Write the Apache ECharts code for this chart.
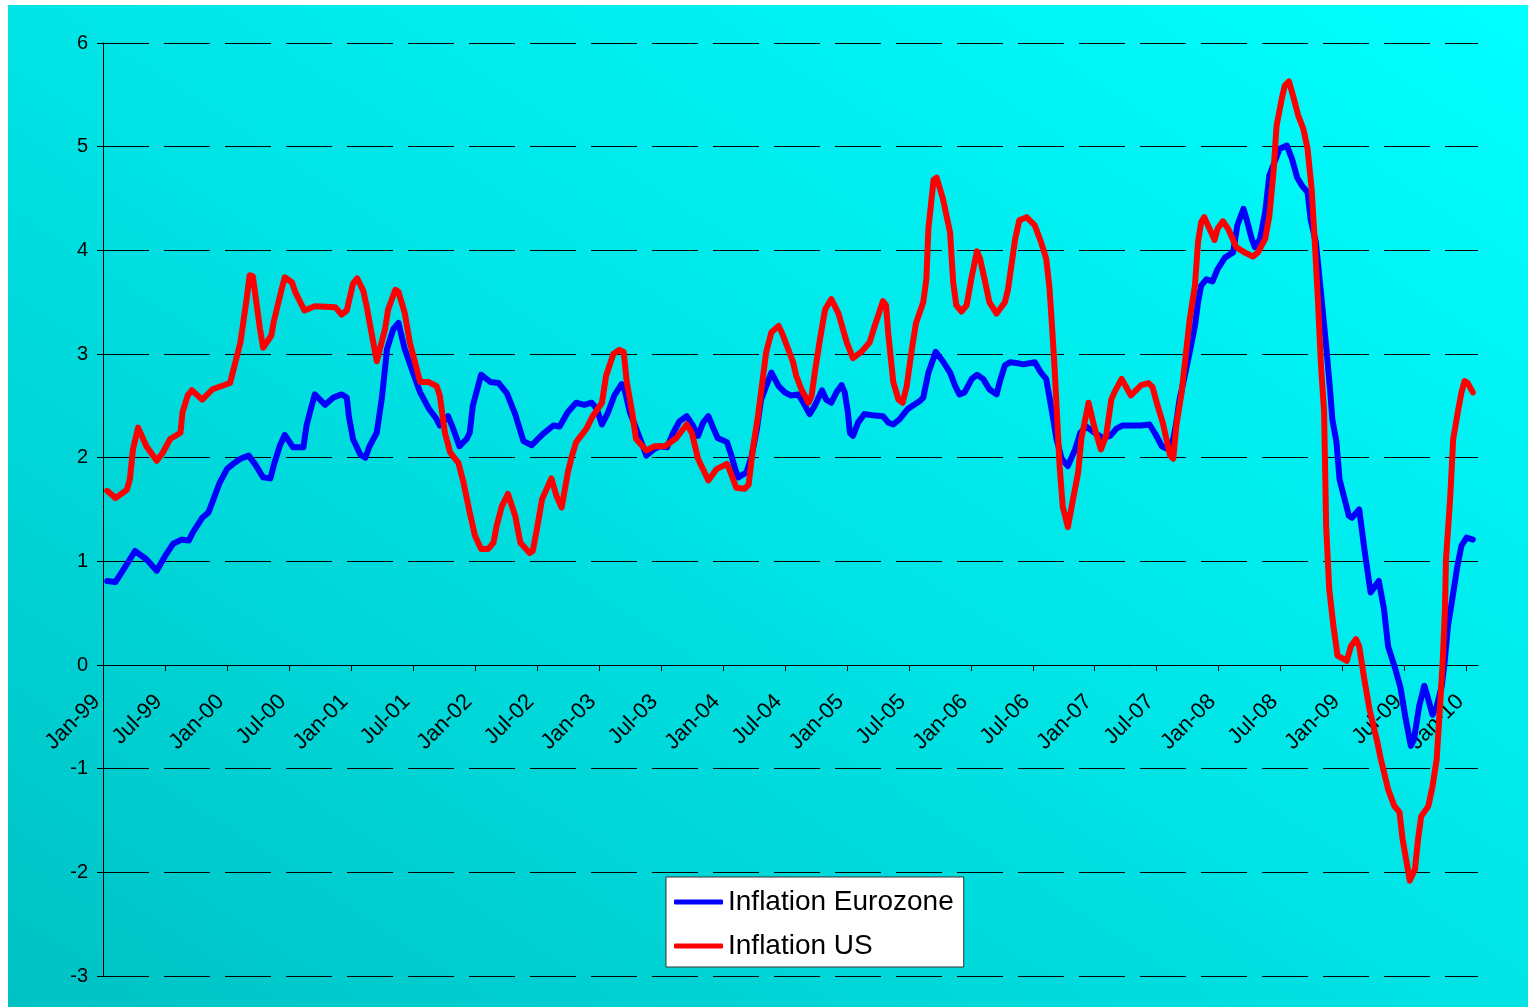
<!DOCTYPE html>
<html>
<head>
<meta charset="utf-8">
<script src="https://cdn.jsdelivr.net/npm/echarts@6/dist/echarts.min.js"></script>
<style>
  html, body { margin: 0; padding: 0; background: #fff; }
  #chart { width: 1528px; height: 1007px; }
</style>
</head>
<body>
<div id="chart"></div>
<script>
// months counted from Jan-99 (0 = Jan 1999)
var xTickLabels = ["Jan-99", "Jul-99", "Jan-00", "Jul-00", "Jan-01", "Jul-01", "Jan-02", "Jul-02",
  "Jan-03", "Jul-03", "Jan-04", "Jul-04", "Jan-05", "Jul-05", "Jan-06", "Jul-06",
  "Jan-07", "Jul-07", "Jan-08", "Jul-08", "Jan-09", "Jul-09", "Jan-10"];

var euroMonths = [0.4,1.2,2.1,3.1,4.2,5.2,6.0,6.8,7.6,8.3,
  8.7,9.6,10.2,10.7,11.3,12.0,12.6,13.3,14.1,14.7,
  15.5,16.2,16.6,17.1,17.6,18.4,19.4,19.7,20.2,20.5,
  21.5,22.3,23.1,23.6,23.8,24.2,24.9,25.4,25.8,26.5,
  27.0,27.5,28.1,28.6,29.2,29.9,30.7,31.5,32.3,32.6,
  33.4,33.9,34.5,35.2,35.5,35.8,36.6,37.5,38.3,39.1,
  39.9,40.7,41.5,42.6,43.6,44.2,45.0,45.8,46.6,47.3,
  47.8,48.3,48.9,49.5,50.2,50.5,51.0,52.0,52.6,53.3,
  53.9,54.6,55.2,55.8,56.5,57.1,57.6,58.1,58.6,59.1,
  59.5,60.4,60.8,61.2,61.5,62.3,62.8,63.3,63.7,64.7,
  65.4,66.0,66.6,67.3,67.8,68.4,68.9,69.6,70.0,70.5,
  71.0,71.5,71.8,72.1,72.3,72.6,73.1,73.7,74.5,75.5,
  76.0,76.5,77.1,77.9,79.1,79.4,79.9,80.6,81.3,82.0,
  82.5,82.9,83.4,84.1,84.6,85.2,85.8,86.5,86.8,87.3,
  87.8,88.6,89.1,90.2,90.8,91.3,91.8,92.3,92.8,93.4,
  94.1,94.6,95.2,96.0,96.8,97.5,98.1,98.7,100.5,101.3,
  101.8,102.5,103.1,103.6,103.9,104.2,104.5,105.2,105.7,106.0,
  106.3,106.8,107.4,107.9,108.6,109.4,109.8,110.4,110.7,111.2,
  111.5,112.0,112.5,112.9,113.4,113.9,114.6,115.1,115.6,116.1,
  116.6,116.9,117.4,117.9,118.4,118.8,119.0,119.4,119.7,120.6,
  120.9,121.6,122.1,122.7,123.5,124.0,124.4,125.1,125.6,126.1,
  126.6,126.9,127.4,127.9,128.2,128.7,129.1,129.6,129.9,130.2,
  130.6,131.1,131.5,132.0,132.6];

var euroValues = [0.81,0.80,0.94,1.10,1.02,0.91,1.05,1.17,1.21,1.20,
  1.28,1.42,1.47,1.60,1.76,1.89,1.94,1.99,2.02,1.94,
  1.81,1.80,1.95,2.11,2.22,2.10,2.10,2.31,2.50,2.61,
  2.51,2.58,2.61,2.58,2.40,2.18,2.03,2.00,2.11,2.24,
  2.58,3.05,3.24,3.30,3.05,2.85,2.63,2.48,2.37,2.31,
  2.40,2.28,2.11,2.18,2.24,2.50,2.80,2.73,2.72,2.62,
  2.42,2.16,2.12,2.23,2.31,2.30,2.44,2.53,2.51,2.53,
  2.47,2.32,2.44,2.60,2.71,2.65,2.44,2.18,2.02,2.08,
  2.11,2.10,2.24,2.35,2.40,2.31,2.21,2.34,2.40,2.28,
  2.19,2.15,2.03,1.89,1.81,1.86,2.02,2.28,2.56,2.82,
  2.69,2.63,2.60,2.61,2.53,2.42,2.50,2.65,2.56,2.53,
  2.63,2.70,2.63,2.44,2.24,2.21,2.34,2.42,2.41,2.40,
  2.34,2.32,2.37,2.47,2.55,2.58,2.82,3.02,2.93,2.82,
  2.69,2.61,2.63,2.76,2.80,2.76,2.66,2.61,2.73,2.89,
  2.92,2.91,2.90,2.92,2.82,2.76,2.48,2.18,1.99,1.92,
  2.08,2.24,2.30,2.24,2.19,2.21,2.28,2.31,2.31,2.32,
  2.24,2.11,2.08,2.18,2.34,2.56,2.69,3.02,3.27,3.50,
  3.66,3.72,3.70,3.82,3.93,3.98,4.24,4.40,4.30,4.11,
  4.03,4.11,4.37,4.72,4.85,4.98,5.01,4.88,4.70,4.62,
  4.56,4.30,4.08,3.59,3.08,2.63,2.37,2.15,1.79,1.44,
  1.42,1.50,1.12,0.70,0.81,0.54,0.18,-0.04,-0.22,-0.52,
  -0.78,-0.72,-0.40,-0.20,-0.30,-0.48,-0.40,-0.20,0.06,0.38,
  0.63,0.95,1.15,1.23,1.21];

var usMonths = [0.4,1.2,2.3,2.6,2.9,3.4,4.2,5.2,5.8,6.5,
  7.5,7.7,8.2,8.6,9.6,10.6,12.3,13.3,13.9,14.2,
  14.5,15.2,15.5,16.3,16.5,17.3,17.6,18.3,18.6,19.5,
  20.5,22.5,23.1,23.6,24.2,24.6,25.2,25.5,26.5,27.3,
  27.6,28.3,28.6,29.2,29.7,30.7,31.5,32.3,32.6,33.1,
  33.6,34.4,34.9,35.5,36.0,36.6,37.3,37.8,38.1,38.6,
  39.2,39.9,40.4,41.3,41.6,42.0,42.5,43.4,43.9,44.4,
  45.0,45.4,45.8,46.8,47.4,48.3,48.7,49.4,50.0,50.4,
  50.7,51.2,51.6,52.6,53.4,54.4,55.5,56.5,57.0,57.6,
  58.6,59.4,60.4,60.7,61.3,62.1,62.5,62.9,63.4,64.2,
  64.7,65.4,65.7,66.2,66.8,67.1,67.6,68.3,68.6,68.9,
  69.4,69.9,70.5,71.2,72.0,72.6,73.4,74.2,74.7,75.5,
  75.8,76.0,76.5,77.0,77.4,77.8,78.3,78.7,79.4,79.7,
  79.9,80.4,80.7,81.3,82.0,82.3,82.6,83.1,83.6,84.1,
  84.6,84.9,85.4,85.8,86.5,87.3,87.6,88.3,88.7,89.4,
  90.2,90.8,91.3,91.6,91.8,92.1,92.3,92.6,92.9,93.4,
  93.9,94.4,94.7,95.4,96.0,96.6,97.1,97.6,97.9,98.6,
  99.5,100.5,101.2,101.6,102.0,102.6,103.3,103.6,103.9,104.4,
  105.2,105.7,106.0,106.3,106.6,107.1,107.6,107.9,108.4,108.9,
  109.7,110.5,111.3,111.8,112.5,112.9,113.3,113.6,114.1,114.4,
  114.8,115.2,115.7,116.2,116.6,117.0,117.3,117.6,117.9,118.2,
  118.4,118.7,119.1,119.5,120.4,120.8,121.3,121.6,122.1,122.6,
  123.3,123.7,124.4,125.0,125.5,125.8,126.2,126.5,127.0,127.3,
  127.6,128.3,128.7,129.1,129.4,129.7,129.9,130.0,130.4,130.7,
  131.2,131.5,131.8,132.1,132.6];

var usValues = [1.68,1.61,1.69,1.79,2.08,2.29,2.11,1.97,2.05,2.18,
  2.24,2.44,2.60,2.65,2.56,2.66,2.72,3.11,3.53,3.76,
  3.75,3.24,3.06,3.18,3.30,3.63,3.74,3.69,3.60,3.42,
  3.46,3.45,3.38,3.42,3.68,3.73,3.61,3.47,2.93,3.24,
  3.43,3.62,3.60,3.40,3.11,2.73,2.73,2.69,2.60,2.24,
  2.05,1.95,1.76,1.47,1.25,1.12,1.12,1.18,1.34,1.53,
  1.65,1.44,1.18,1.08,1.10,1.31,1.60,1.80,1.63,1.52,
  1.86,2.02,2.15,2.28,2.40,2.53,2.79,3.00,3.04,3.02,
  2.73,2.45,2.18,2.07,2.11,2.11,2.19,2.32,2.24,1.99,
  1.78,1.89,1.94,1.87,1.71,1.70,1.74,2.08,2.40,3.02,
  3.21,3.27,3.21,3.08,2.92,2.79,2.66,2.53,2.60,2.82,
  3.14,3.43,3.53,3.39,3.11,2.96,3.02,3.11,3.27,3.51,
  3.47,3.21,2.73,2.56,2.53,2.69,3.05,3.30,3.50,3.72,
  4.21,4.68,4.70,4.50,4.17,3.69,3.47,3.41,3.47,3.75,
  3.99,3.92,3.69,3.50,3.39,3.50,3.62,4.11,4.29,4.32,
  4.24,4.08,3.92,3.66,3.37,2.89,2.50,1.92,1.53,1.33,
  1.60,1.86,2.18,2.53,2.28,2.08,2.21,2.56,2.63,2.76,
  2.60,2.70,2.72,2.68,2.53,2.33,2.02,1.99,2.31,2.62,
  3.34,3.66,4.08,4.27,4.32,4.21,4.10,4.21,4.28,4.21,
  4.03,3.98,3.94,3.98,4.11,4.33,4.75,5.20,5.46,5.59,
  5.63,5.49,5.30,5.17,4.98,4.59,4.08,3.53,2.89,2.45,
  1.34,0.73,0.38,0.09,0.04,0.18,0.25,0.18,-0.14,-0.43,
  -0.72,-0.91,-1.20,-1.36,-1.42,-1.68,-1.91,-2.08,-1.97,-1.68,
  -1.46,-1.36,-1.17,-0.91,-0.43,0.06,0.54,1.02,1.60,2.18,
  2.47,2.63,2.74,2.72,2.63];

var yMin = -3, yMax = 6;

function zip(xs, ys) {
  return xs.map(function (x, i) { return [x, ys[i]]; });
}

var tickMonths = xTickLabels.map(function (_, i) { return i * 6; });
var font = "Liberation Sans, Arial, sans-serif";

// plot box, the date axis sits on the zero line
var gridTop = 43, gridBottom = 31;
var plotHeight = 1007 - gridTop - gridBottom;
var zeroOffset = -plotHeight * (0 - yMin) / (yMax - yMin);

var myChart = echarts.init(document.getElementById("chart"));

const option = {
  animation: false,
  textStyle: { fontFamily: font },
  graphic: [
    {
      type: "rect",
      z: -100,
      silent: true,
      shape: { x: 8, y: 5, width: 1520, height: 1002 },
      style: {
        // diagonal fill, dark in the bottom left, bright cyan top right
        fill: new echarts.graphic.LinearGradient(309, 1203, 1227, -193, [
          { offset: 0, color: "#00c2c4" },
          { offset: 0.5, color: "#00e4e6" },
          { offset: 1, color: "#00ffff" }
        ], true)
      }
    }
  ],
  grid: {
    left: 103, right: 50, top: gridTop, bottom: gridBottom,
    containLabel: false,
    outerBoundsMode: "none"
  },
  legend: {
    orient: "vertical",
    left: 666,
    top: 877,
    padding: [11, 10, 7, 8],
    itemGap: 16,
    itemWidth: 49,
    itemHeight: 5,
    icon: "roundRect",
    backgroundColor: "#ffffff",
    borderColor: "#333333",
    borderWidth: 1,
    borderRadius: 0,
    textStyle: { fontSize: 28, color: "#000", fontFamily: font },
    data: ["Inflation Eurozone", "Inflation US"]
  },
  xAxis: {
    type: "value",
    min: 0,
    max: 133.1,
    offset: zeroOffset,
    axisLine: { onZero: false, lineStyle: { color: "#000", width: 1 } },
    axisTick: { customValues: tickMonths, length: 6, lineStyle: { color: "#000" } },
    axisLabel: {
      customValues: tickMonths,
      rotate: 45,
      margin: 27,
      padding: [0, 9, 0, 0],
      fontSize: 22,
      color: "#000",
      fontFamily: font,
      formatter: function (v) { return xTickLabels[Math.round(v / 6)]; }
    },
    splitLine: { show: false }
  },
  yAxis: {
    type: "value",
    min: yMin,
    max: yMax,
    interval: 1,
    axisLine: { show: true, onZero: false, lineStyle: { color: "#000", width: 1 } },
    axisTick: { show: true, length: 6, lineStyle: { color: "#000" } },
    axisLabel: { fontSize: 20, color: "#000", margin: 15, fontFamily: font },
    splitLine: {
      show: true,
      lineStyle: { color: "#000", width: 1, type: [46, 15] }
    }
  },
  series: [
    {
      name: "Inflation Eurozone",
      type: "line",
      showSymbol: false,
      symbol: "none",
      color: "#0000ff",
      lineStyle: { color: "#0000ff", width: 6, cap: "round", join: "round" },
      data: zip(euroMonths, euroValues)
    },
    {
      name: "Inflation US",
      type: "line",
      showSymbol: false,
      symbol: "none",
      color: "#ff0000",
      lineStyle: { color: "#ff0000", width: 6, cap: "round", join: "round" },
      data: zip(usMonths, usValues)
    }
  ]
};
myChart.setOption(option);
</script>
</body>
</html>
